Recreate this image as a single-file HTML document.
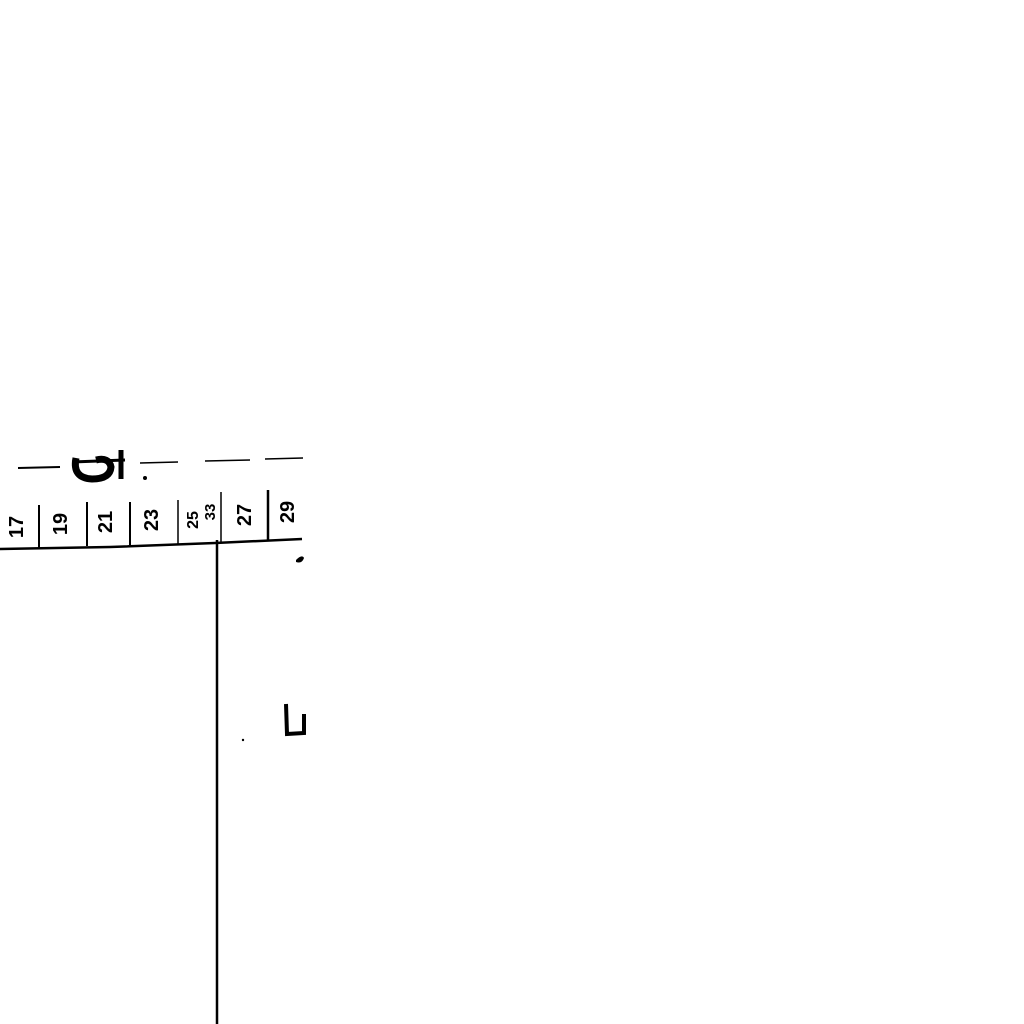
<!DOCTYPE html>
<html><head><meta charset="utf-8"><style>
html,body{margin:0;padding:0;background:#fff;width:1024px;height:1024px;overflow:hidden}
</style></head><body>
<svg width="1024" height="1024" viewBox="0 0 1024 1024" xmlns="http://www.w3.org/2000/svg">
<rect width="1024" height="1024" fill="#fff"/>
<g stroke="#000" fill="none">
  <line x1="18" y1="468" x2="60" y2="467" stroke-width="2"/>
  <line x1="140" y1="463" x2="178" y2="462" stroke-width="1.5"/>
  <line x1="205" y1="461" x2="250" y2="460" stroke-width="1.5"/>
  <line x1="265" y1="459" x2="303" y2="458" stroke-width="1.5"/>
  <path d="M76 458 Q72 478 92 479 Q110 479 111 467 Q109 457 96 460" stroke-width="7"/>
  <line x1="72" y1="462" x2="125" y2="460" stroke-width="3"/>
  <line x1="121" y1="450" x2="121" y2="479" stroke-width="5"/>
  <polyline points="0,549 110,547 215,543 302,539" stroke-width="2.5"/>
  <line x1="39" y1="505" x2="39" y2="548" stroke-width="2"/>
  <line x1="87" y1="502" x2="87" y2="546" stroke-width="2"/>
  <line x1="130" y1="502" x2="130" y2="545" stroke-width="2"/>
  <line x1="178" y1="500" x2="178" y2="544" stroke-width="1.5"/>
  <line x1="221" y1="492" x2="221" y2="542" stroke-width="1.5"/>
  <line x1="268" y1="490" x2="268" y2="540" stroke-width="2.5"/>
  <line x1="217" y1="540" x2="217" y2="1024" stroke-width="2.5"/>
  <path d="M286 704 L287 734 L304 733 L304 714" stroke-width="4"/>
</g>
<circle cx="145" cy="478" r="2" fill="#000"/>
<circle cx="243" cy="740" r="1.2" fill="#000"/>
<path d="M296 560 q6 -6 8 -2 q-2 6 -8 4 z" fill="#000"/>
<g font-family="Liberation Sans, sans-serif" font-size="20" font-weight="bold" fill="#000" text-anchor="middle">
  <text transform="translate(23,527) rotate(-90)">17</text>
  <text transform="translate(67,524) rotate(-90)">19</text>
  <text transform="translate(112,522) rotate(-90)">21</text>
  <text transform="translate(158,520) rotate(-90)">23</text>
  <text transform="translate(198,520) rotate(-90)" font-size="16">25</text>
  <text transform="translate(215,512) rotate(-90)" font-size="15">33</text>
  <text transform="translate(251,515) rotate(-90)">27</text>
  <text transform="translate(294,512) rotate(-90)">29</text>
</g>
</svg>
</body></html>
